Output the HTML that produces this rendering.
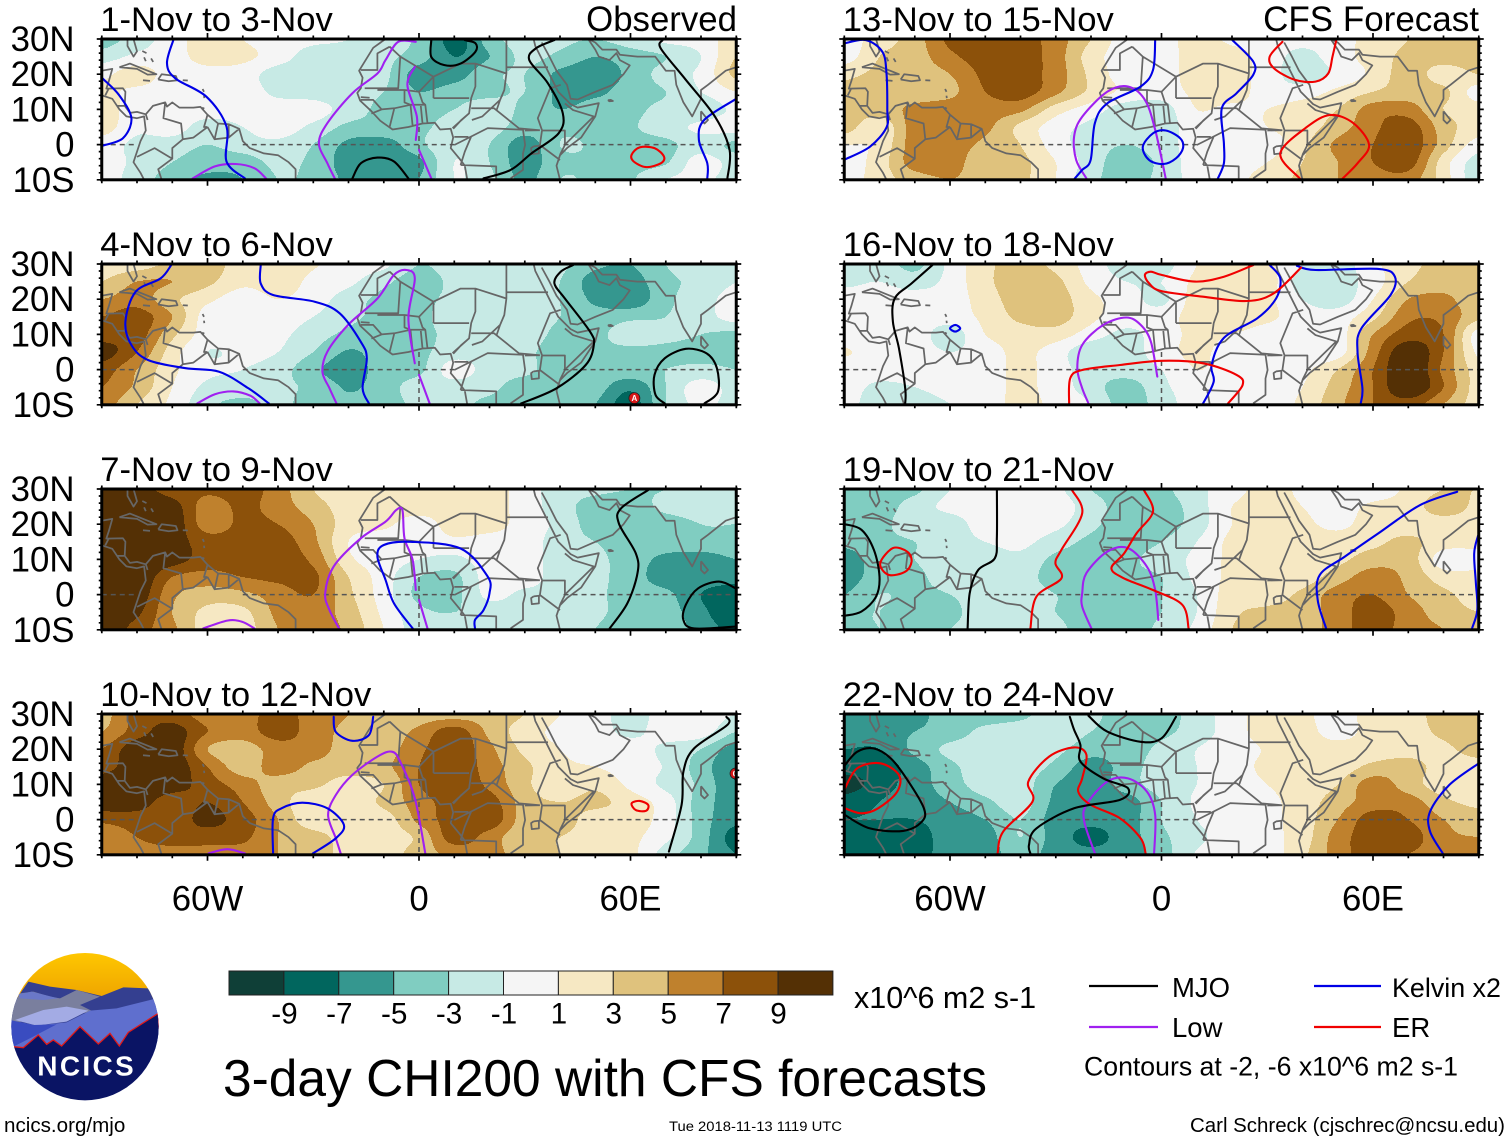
<!DOCTYPE html>
<html lang="en">
<head>
<meta charset="utf-8">
<title>3-day CHI200 with CFS forecasts</title>
<style>
html,body{margin:0;padding:0;background:#fff;}
svg{display:block;position:absolute;left:0;top:0;font-family:"Liberation Sans",sans-serif;}
text{fill:#000;}
</style>
</head>
<body>
<svg id="chart" xmlns="http://www.w3.org/2000/svg" width="1510" height="1142" viewBox="0 0 1510 1142">
  <g id="panels"></g>

  <g id="colorbar"></g>
  <text x="854" y="1008" font-size="30.5">x10^6 m2 s-1</text>
  <text x="223" y="1096" font-size="52" textLength="764" lengthAdjust="spacingAndGlyphs">3-day CHI200 with CFS forecasts</text>

  <g>
    <line x1="1089" y1="986" x2="1158" y2="986" stroke="#000" stroke-width="2.2"/>
    <text x="1172" y="997" font-size="27.5">MJO</text>
    <line x1="1314" y1="986" x2="1381" y2="986" stroke="#0000e6" stroke-width="2.2"/>
    <text x="1392" y="997" font-size="27" textLength="109" lengthAdjust="spacingAndGlyphs">Kelvin x2</text>
    <line x1="1089" y1="1027" x2="1158" y2="1027" stroke="#a020f0" stroke-width="2.2"/>
    <text x="1172" y="1037" font-size="27.5">Low</text>
    <line x1="1314" y1="1027" x2="1381" y2="1027" stroke="#f00000" stroke-width="2.2"/>
    <text x="1392" y="1037" font-size="27.5">ER</text>
    <text x="1084" y="1075.5" font-size="27" textLength="374" lengthAdjust="spacingAndGlyphs">Contours at -2, -6 x10^6 m2 s-1</text>
  </g>

  <text x="4" y="1132" font-size="20.6">ncics.org/mjo</text>
  <text x="669" y="1131" font-size="13.4" textLength="173" lengthAdjust="spacingAndGlyphs">Tue 2018-11-13 1119 UTC</text>
  <text x="1190" y="1132" font-size="20" textLength="315" lengthAdjust="spacingAndGlyphs">Carl Schreck (cjschrec@ncsu.edu)</text>

  <g transform="translate(0,945) scale(0.3333)">
    <defs><clipPath id="logoClip"><circle cx="255" cy="245" r="221"/></clipPath>
    <linearGradient id="sunSky" x1="0" y1="0" x2="0" y2="1"><stop offset="0" stop-color="#ffc800"/><stop offset="1" stop-color="#eea400"/></linearGradient></defs>
    <g clip-path="url(#logoClip)">
      <rect x="20" y="20" width="480" height="140" fill="url(#sunSky)"/>
      <path d="M30,190 L85,110 L150,125 L230,135 L305,153 L370,127 L445,130 L490,200 L490,320 L30,320Z" fill="#343f90"/>
      <path d="M30,200 L60,145 L100,140 L150,155 L180,160 L230,135 L300,155 L240,180 L280,200 L30,235Z" fill="#7a7f9e"/>
      <path d="M55,148 L95,140 L135,150 L175,160 L130,165 L60,160Z" fill="#6a78c8"/>
      <path d="M45,225 L130,195 L200,185 L265,197 L200,230 L110,242Z" fill="#a3abe4"/>
      <path d="M30,225 L110,242 L200,232 L270,197 L350,190 L470,160 L490,320 L40,320Z" fill="#5f6fce"/>
      <path d="M30,225 L100,240 L170,238 L80,285 L40,305 L25,300Z" fill="#3a4cc0"/>
      <path d="M40,305 L70,308 L115,270 L140,298 L160,285 L185,303 L240,245 L295,297 L330,265 L358,303 L385,262 L475,205 L490,480 L20,480Z" fill="#0a1464" stroke="#e01a1a" stroke-width="4"/>
    </g>
    <text x="260" y="391" font-size="84" font-weight="700" text-anchor="middle" letter-spacing="7" style="fill:#fff">NCICS</text>
  </g>
</svg>

<script>
/* ===== CHI200 anomaly fields: rows lat 30..-10 step 5, columns lon -90..90 step 10 ===== */
const chiNov01 = [
[-4,-2,0,2,1,0,-0.5,-1,-2,-3.5,-8,-4,-2,-2.5,-3,-2,-0.5,0,2],
[-2,-0.5,0,2,1.5,0,-2,-2,-2.5,-4,-7,-5,-2.5,-3.5,-5,-4,-3,-1,3],
[0.5,2,0,0,0,-2,-2,-2,-2.5,-6,-6,-3.5,-3,-5.5,-6,-4.5,-2,-0.5,3.5],
[1.5,0.5,0,-0.5,0,-1.5,-2,-2.5,-3,-5,-4,-3.5,-3,-5.5,-5.5,-4,-3,-1,1],
[2,0,0,0,0,0,0,-2,-3.5,-4,-3,-2,-3.5,-5,-4,-3.5,-2.5,-2.5,-0.5],
[2,-0.5,0,-2,-1,0,-1.5,-3.5,-3.5,-3.5,-2,-2,-4,-3.5,-3.5,-3.2,-2,-0.5,0],
[0,-1.5,-2,-3,-2,-1.5,-3,-5.5,-6,-3.5,-1.5,-3,-6,-3,-3.2,-3.5,-3.5,-2,-3.5],
[0,-1.5,-3,-4,-4,-2.5,-3.5,-6,-6.5,-5.5,-1,-3,-6,-3.5,-3.3,-3.5,-3.2,0,-2],
[0,-2,-4,-5.5,-5,-3,-3.5,-5.5,-6.5,-5,-1,-2.5,-5.5,-3,-3.3,-3.2,-1,-0.5,-2]];
const chiNov04 = [
[2,2,3.5,4,2,2,1.2,0,-0.5,-3,-2,-1.5,-2,-2.5,-4.5,-5,-3,-2,-1],
[3,5,5,3.5,1.5,2,0.5,-0.5,-2.5,-4,-2.5,-2,-2,-3,-6,-6,-3.5,-2.5,-1],
[5,6,3.5,1.5,0,1,0,-2,-3.5,-3.5,-2.5,-2,-2,-3,-5.5,-6.5,-3.5,-2,0],
[7,8,5,0,0,0,-1,-2.5,-3.5,-3.5,-2,-2,-2,-3,-4,-3.5,-3,-2,0],
[8,8,3.5,0,0,-0.5,-2,-3.5,-4,-3.5,-2.5,-2,-2,-3.5,-3.5,-2,-2.5,-3,-3.5],
[10,7,2,-1,-0.5,-1,-3,-5.2,-4,-3.5,-2,-2,-2.5,-4,-3.5,-3.5,-3.5,-3.5,-3.5],
[8,5,1.5,-0.5,-1,-2,-4.5,-6,-4,-3.5,0,-2,-2.5,-4,-3.5,-3.5,-3,-2.5,-3],
[7,4.5,1,-1.5,-2,-2.5,-3.5,-5.2,-4,-2,-2,-2.5,-4,-3.5,-4,-6.5,-3,0,-2],
[6,3,0.5,-2.5,-3.5,-2.5,-4,-4.6,-4,-2.5,-2.5,-3.5,-4,-3.5,-5,-8,-3,-0.5,-2]];
const chiNov07 = [
[11,10,8,7.5,8,6,3,1.5,2,2,2,2,0,-2,-2.5,-3,-3,-2,-2],
[11,11,10,6,7.5,6,4,2,2,2,2,2,0,-2,-4,-4,-2.5,-2,-2.5],
[11,11,10.5,6,7.5,7,5,2,1.5,0,2,2,0,-1.5,-4,-4,-4,-3,-3],
[11,11,10,8,8,8,5.5,1,-0.3,-0.3,0.5,0,0,-2,-3,-4,-4,-3.5,-3.5],
[11,11,10,8,8,8,6.5,1.5,0,-1,-1.5,0,0,-2,-2.5,-4,-5.5,-6,-5],
[11,11,7,6.2,7,7.5,7.5,3,0,-3,-3.5,0,0,-2,-2.5,-4,-6,-6,-6],
[11,10.5,5.5,4,4.5,6,7,3.5,0,-3.5,-3.5,-0.5,-1.5,-1.5,-2.5,-4,-4.5,-7,-8.5],
[11,9.5,5,2.5,2.5,5.5,6,4,0.5,-2.5,-3,-2,-2,-2,-2.5,-4,-4,-6.5,-8.5],
[11,8,5.5,2,2,5,6,4.5,1,-2,-2,-2,-2,-2,-3,-4.5,-3.5,-6,-7.5]];
const chiNov10 = [
[4,8,8,6,6,8,6,5,4,4,4,4,3,1,0,-2,0,0,-1],
[5,8,10,7,6,8,6,4.5,4,5.5,8,4.5,2,0.5,0,-1.5,0,0,-3],
[7,10.5,10.5,5,4,6,6,4,4,6.5,8.5,5.5,2.5,1,0,0,-1.5,-3,-6],
[8,10.5,10.5,7,4,6,4.5,4,4.5,7,8.5,6,3.5,1.5,1,0,-1.2,-4,-7],
[10.5,10.5,10,8,6,4,3.5,2,3,7,8.5,6.5,3.5,1.5,2.5,0.5,-1.5,-3.5,-7],
[10.5,10,8,9,7,4,1.5,1.5,3.5,6,8,8,4,3,3.5,2,0,-4,-6],
[7.5,8,8,9.5,8,5,1.5,2,2,5.5,8,8.5,4,4,2,2,0,-4,-6.5],
[5.5,7,8,8,7.5,5,4,2,2,3.5,8,6,3.5,3,2,1.5,-0.5,-4,-8],
[5,6,6,6,6,5,4.5,2,2,4,5.5,6,3.5,3,1.5,1.5,-2,-4.5,-7]];
const chiNov13 = [
[0,2,4,7.5,8,8,6,3,0,0,2,0.5,0,-0.5,0,2,3,4,3],
[0,3,4,6.5,8,8,6,2,0,0,2,2,0,-1.5,0,2,3.5,4,4],
[2.5,3.5,4,5,7.5,8,6,2.5,0,0,2,2,0,-2,-0.5,1.5,4,2,3],
[3.5,4,4,4.5,7,8,5.5,2.5,0.5,0,1.5,2,0,0,1.5,3,4,3.5,0],
[4,4,5.5,6,6,5.5,2,0,-2,-2,1,0.5,1,2,3,6,6,3,2],
[4,1.5,6,6,5.5,2.5,0,-1.5,-2,-2,0,0,1,2,4,6.5,8,4,2],
[1,1.5,6,6,4.5,3,0,-2,-3,-2,0,0,0,2.5,5.5,7,8.5,4,0],
[0,2,6,6,3.5,3.5,1,-2,-4,-2.5,0,0,1,3,5,7,8,2,-2],
[0,2,4,5,4,3.5,1,-2.5,-3.5,-2.5,0,0.3,2,3.5,5,6,6,2,-2.5]];
const chiNov16 = [
[-2,-2,-3.5,-0.5,2.5,3.5,2.5,0,-2,-2,1,2,1.5,-1,-2,0.5,2.5,3.5,4],
[-1.5,-1,-2,-0.3,2.5,4,3.5,0.5,-1,-1,1.5,2,2,-2,-2,0,3,4,4],
[0,0,0,0,2,4,4,1.5,0,-1.5,2,2,1.5,-1,-2,1,5,5.5,3.5],
[0,0,0,0,1.5,3.5,4,1.5,0,0,2,2.5,1.5,0,0,2.5,6.5,6.5,3.5],
[0,-1,0,-2,1,2,2,0,-1.5,0,1.5,1,0,0,0,5,8,7,0],
[1.2,0,0,-1,0,1.5,0,-2.5,-2,0,1.5,0,0,0,0,6,10.5,7,0.5],
[0,0,0,0,0,1.5,0,-2,-2,-1,1,0,0,0.5,3,7,11,6.5,2],
[0,-1.5,-1,0,0,1.5,0,-2,-4,-1.5,0,0,0,1,4,7,11,7,2],
[0,-2.5,-2.5,-1,0,1.5,0.5,-1,-4,-2,0,0,0,1.5,4.5,7,8,5,2]];
const chiNov19 = [
[-4,-4,-3.5,-1,0,0,-0.5,-3,-4,-3.5,-1.5,0,2,0.5,0,-0.5,1.5,3,3],
[-4,-4,-2,-0.5,0,0,0,-2,-4,-4,-2,1,2,1,0,1.5,2,4,2.5],
[-4,-3.5,-2,-2,0,0,-0.5,-2.5,-4,-4,-2,1,2,1.5,0.5,2,2,2,2],
[-4.5,-3.5,-3,-2,-1,-0.5,-2,-3.5,-4,-3,-1,1.5,2,2,2,2.5,3.5,2,1.5],
[-6,-4,-3,-2,-2,-1.5,-3.5,-4,-3.5,-2,-0.5,1.5,2,2,2.5,4,4,0,0.5],
[-6,-4,-3.5,-2,-2,-2,-4,-4,-3.5,-3,-0.5,1.5,2,2,4,6,4.5,2,1.5],
[-5,-3,-3.5,-3,-2,-2,-3,-4,-4,-3,-1,2,2,3.5,6,7,5,3.5,2],
[-3.5,-3,-4,-3.5,-2,-2,-3,-4,-4,-3,-1,2.5,3.5,4,6,8,6,4,3],
[-3.5,-3,-3.5,-3,-2,-2,-2.5,-4,-4,-2.5,-0.5,3,4,4,6,8,6,5,3.5]];
const chiNov22 = [
[-6,-6,-6,-3.5,-4,-3.5,-2,-2.5,-4,-4,-2,0,2,1.5,0,2,2,4,4],
[-6,-6,-5,-4,-2.5,-2,-2,-3,-4,-3.5,-2,0,2,2,0,2,2,3.5,4],
[-7,-7,-4.5,-2.5,-2,-2,-2.5,-4,-4,-2.5,-1,0,1.2,2,2,2,2,2.5,4],
[-8,-8,-6,-3.5,-2,-2,-3.5,-6,-4,-2,-1,0,1.5,2,2,3.5,4,2,2],
[-10,-8,-6,-4,-2,-2,-5,-6,-4,-2,-1,0,1,2,3,6,4,2,2],
[-8,-7,-6,-5,-3.5,-2,-5.5,-6,-6,-3,-0.7,0,0.5,2,4,6,6,3.5,2.5],
[-7,-7,-7,-6,-5,-3,-6,-6.5,-6,-3,-1,0,0.5,2,5,8,7,5,4],
[-8,-8,-8,-6,-6,-3,-6,-7.5,-6,-3.5,-1.5,0,0.5,2,6,8,8,5.5,5],
[-8,-8,-8,-6,-6,-4,-6,-6.5,-6,-4,-0.8,0,0,2.5,6,8,7,6,5.5]];

/* ===== Contours in [lon, lat] ===== */
const kelvinNov01 = [
[[-69.7,29.7],[-71.5,23.1],[-69.1,18.8],[-60.3,13.6],[-54.6,5.1],[-54.6,-4.8],[-49.4,-9.6]],
[[-89.8,18.8],[-85.1,14.1],[-81.6,7.5],[-84,1.8],[-89.8,-0.3]],
[[90,13],[80.9,7],[79.4,1.3],[81.8,-5.3],[81.8,-9.6]]];
const lowNov01 = [
[[-0.9,29.2],[-5.9,29.2],[-9.5,24],[-11.8,20.2],[-18.9,14.6],[-26,6.1],[-28.4,0.4],[-26,-5.3],[-23.9,-9.6]],
[[-1.2,22.1],[-3.3,16.9],[-0.6,7.9],[-0.9,1.3]],
[[0,-1.5],[3.5,-9.6]],
[[-64.2,-9.6],[-57.9,-6.2],[-52,-5.5],[-46.7,-6.7],[-43.4,-9.6]]];
const mjoNov01 = [
[[3.5,29.7],[3.5,24.9],[7.1,22.6],[11.8,23],[16,26.4],[16,28.8],[13,29.7]],
[[38.4,29.7],[33.1,27.3],[31.3,24],[36.6,17.4],[40.8,8.9],[39.6,3.2],[31.9,-2.5],[26,-7.2],[18.3,-9.6]],
[[-18.9,-9.6],[-16.5,-5.3],[-11.8,-3.7],[-7.1,-4.8],[-3,-9.6]],
[[69.1,29.7],[68.6,27.3],[75.7,18.4],[84,7.9],[88.1,-1.5],[87.5,-9.6]]];
const erNov01 = [
[[60.3,-2.9],[62.6,-0.8],[66.8,-1],[69.5,-3.4],[68.6,-5.3],[64.4,-6.4],[60.9,-4.8],[60.3,-2.9]]];

const kelvinNov04 = [
[[-70.3,29.7],[-73.3,25.9],[-80.4,22.1],[-83.3,13.6],[-81.6,7],[-76.8,2.7],[-66.2,0.4],[-56.7,-0.6],[-48.4,-5.3],[-42.6,-9.6]],
[[-44.9,29.7],[-44.9,24.5],[-41.4,21.2],[-29.6,19.3],[-22.5,16],[-16.5,7.9],[-14.8,3.2],[-16,-5.3],[-14.2,-9.6]]];
const lowNov04 = [
[[-1.2,1.8],[-3,14.6],[-1.2,25.9],[-3.5,28.3],[-7.1,26.9],[-11.8,20.2],[-20.1,12.7],[-26,5.1],[-27.4,-0.6],[-25.4,-5.3],[-23.4,-9.6]],
[[0,-1.5],[3,-9.6]],
[[-62.9,-9.6],[-57.9,-7],[-52.6,-6.2],[-47.9,-7.4],[-45.2,-9.6]]];
const mjoNov04 = [
[[43.7,29.7],[40.2,27.8],[38.4,24.5],[41.4,20.2],[48.5,10.8],[49.6,7],[47.3,1.3],[39,-5.3],[29,-9.6]],
[[69.7,-9.6],[67.1,-7.2],[66.8,-1.5],[69.7,3.2],[75.7,5.9],[81.6,4.6],[84.5,0.4],[84.8,-6.3],[81,-9.6]]];
const erNov04 = [];

const kelvinNov07 = [
[[-1.8,-9.6],[-7.1,-2.5],[-9.5,4.2],[-11.8,10.8],[-10,14.1],[-2.4,15],[11.8,13.1],[19.5,5.1],[20,0.4],[18.3,-4.4],[15.9,-7.2],[15.9,-9.6]]];
const lowNov07 = [
[[-0.9,1.3],[-1.8,9.8],[-4.1,16],[-4.7,24],[-6.5,24],[-9.5,20.7],[-16.5,16],[-24.2,8],[-26.6,0.4],[-25.4,-4.4],[-22.7,-9.6]],
[[0,-1.5],[2.4,-9.6]],
[[-61.2,-9.6],[-54.4,-7.4],[-50.2,-7.7],[-46.7,-9.6]]];
const mjoNov07 = [
[[65,29.7],[57.3,24.5],[56.7,20.2],[61.5,11.7],[62,6.1],[59.1,-2.5],[54.1,-9.6]],
[[89.8,1.8],[85.1,3.7],[79.2,1.8],[75.7,-2.9],[75,-7.2],[78,-9.6],[89.8,-9.1]]];
const erNov07 = [];

const kelvinNov10 = [
[[-24.2,29.2],[-23.6,24.9],[-18.9,22.4],[-14.2,24],[-13,29.2]],
[[-41.4,-9.6],[-41.4,0.4],[-39,3.2],[-33.1,4.8],[-26,3.2],[-21.3,-1.5],[-23.6,-5.3],[-30.1,-9.6]]];
const lowNov10 = [
[[1.8,-9.6],[-1.2,6.1],[-5.3,16.4],[-7.7,19.3],[-11.8,17.9],[-18.9,12.7],[-23.6,7],[-25.8,1.3],[-23.6,-5.3],[-22.2,-9.6]],
[[-59.7,-9.6],[-54.4,-8.4],[-49.4,-9.6]]];
const mjoNov10 = [
[[87.2,29.2],[87.5,26.9],[78,20.2],[75,13.6],[74.5,4.2],[70.9,-9.1]]];
const erNov10 = [
[[60.3,4.6],[62.6,5.3],[65,4.2],[64.4,2.5],[61.5,2.7],[60.3,4.6]]];

const kelvinNov13 = [
[[-89.8,28.8],[-83.9,29.7],[-79.2,26.4],[-78,20.2],[-77.8,9.8],[-78,4.9],[-82.7,-0.6],[-89.8,-4.2]],
[[-1.8,29.7],[-2.4,21.2],[-5.9,16.5],[-15.4,11.7],[-18.9,6.1],[-20.1,-4.4],[-22.5,-7.2],[-24.6,-9.6]],
[[-5.3,-0.6],[-2.4,3.2],[1.2,4],[5.3,1.8],[6.1,-1],[4.1,-3.9],[0.6,-5.5],[-3.5,-4.4],[-5.3,-0.6]],
[[20.1,29.7],[26,23.6],[26,19.8],[21.3,14.6],[17.1,10.3],[17.7,0.4],[17.7,-5.3],[16,-9.6]]];
const lowNov13 = [
[[1.2,-9.6],[-1.8,4.2],[-4.7,12.7],[-9.5,16.5],[-15.4,15],[-22.5,7.9],[-24.8,2.3],[-24.2,-4.4],[-21.3,-9.6]]];
const mjoNov13 = [];
const erNov13 = [
[[34.3,29.2],[30.7,25],[31.9,21.7],[37.8,18.4],[43.7,17.9],[47.3,20.2],[48.5,25],[49.6,29.7]],
[[39.2,-9.6],[33.7,-2.5],[41.4,5.1],[47.9,8.4],[54.4,6.1],[58.9,-0.1],[55.6,-5.3],[51.4,-9.6]]];

const kelvinNov16 = [
[[-60,11.7],[-58.5,12.7],[-57.1,11.7],[-58.5,10.8],[-60,11.7]],
[[30.7,29.7],[33.7,25.9],[32.5,20.2],[27.2,14.6],[17.7,9],[14.2,1.3],[14.8,-3.4],[11.8,-9.6]],
[[38.4,29.5],[43.7,28.3],[61.5,28.6],[66.2,26.4],[65,21.2],[56.7,11.7],[55.6,5.1],[57,-5.3],[56.5,-9.6]]];
const lowNov16 = [
[[-1.2,-2],[-3,7.9],[-5.9,12.7],[-10,14.8],[-16.5,12.7],[-22.5,7],[-23.9,0.4],[-22.5,-5.3],[-20.7,-9.6]]];
const mjoNov16 = [
[[-65,29.7],[-70.9,24.5],[-75.7,20.2],[-76.2,13.6],[-74.5,6.1],[-72.7,-5.3],[-72.7,-9.6]]];
const erNov16 = [
[[26,29.7],[17.7,26.4],[9.5,25],[0,26.9],[-3,27.8],[-4.7,26.9],[-3.5,24.5],[0,22.3],[11.8,20.7],[24.2,19.5],[31.9,21.7],[39.6,29]],
[[-26.2,-9.6],[-25.9,-2.5],[-22.5,-0.1],[-11.8,1.3],[0,2.5],[11.8,1.8],[21.3,-1.5],[23,-4.4],[18.9,-9.6]]];

const kelvinNov19 = [
[[83.9,29.2],[73.3,25.4],[61.5,17.4],[52,10.8],[44.9,5.6],[44.3,-1.5],[46.7,-9.6]],
[[89.8,16.7],[88.7,11.7],[89.2,3.2],[89.6,-4.4],[88.1,-9.6]]];
const lowNov19 = [
[[-0.9,-7.2],[-1.8,1.3],[-4.1,7.9],[-9.5,13.2],[-15.4,12.2],[-21.3,6.1],[-22.5,0.4],[-22.5,-3.4],[-19.9,-9.6]]];
const mjoNov19 = [
[[-46.7,29.7],[-46.7,16.5],[-47.3,10.3],[-52,7],[-54.4,0.4],[-55,-9.6]],
[[-89.8,20],[-85.1,18.4],[-81.6,12.7],[-80,5.1],[-81,-0.6],[-85.1,-4.8],[-89.8,-6]]];
const erNov19 = [
[[-79.8,8.9],[-76.2,13.2],[-72.1,12.2],[-70.9,9.4],[-72.7,6.5],[-77.4,5.6],[-79.8,8.9]],
[[-25.4,29.7],[-22.5,23.1],[-28.4,12.7],[-30.1,8.9],[-28.4,4.6],[-35.5,-0.6],[-37.2,-9.6]],
[[-5,29.7],[-2.4,23.6],[-7.1,17.4],[-10.6,11.7],[-14.2,7.5],[-10.6,4.6],[-2.4,1.3],[5.9,-2.9],[7.7,-9.6]]];

const kelvinNov22 = [
[[90,16],[81.6,9.8],[76.2,2.3],[76.2,-3.4],[79.8,-9.6]]];
const lowNov22 = [
[[-2.1,-9.6],[-1.8,1.3],[-4.1,7.9],[-9.5,11.7],[-15.4,10.8],[-21.3,4.2],[-21.9,-0.6],[-18.9,-9.6]]];
const mjoNov22 = [
[[-26,29.2],[-24.8,25.5],[-23,21.2],[-23,16.5],[-16.5,11.7],[-9.5,8.9],[-11.8,5.6],[-24.8,3.2],[-35.5,-2.5],[-37.6,-7.2],[-37.2,-9.6]],
[[-20.7,29.5],[-15.4,25],[-5.9,22.1],[0,23.1],[4.1,29.2]],
[[-89.8,15.5],[-86.3,19.3],[-81.6,20.2],[-76.8,17.4],[-72.1,11.3],[-67.4,3.2],[-68,-0.6],[-73.3,-3.2],[-82.7,-2.5],[-89.8,1.3]]];
const erNov22 = [
[[-89.8,8.9],[-86.3,14.6],[-79.8,16],[-74.5,12.7],[-75,7.9],[-80.4,3.2],[-85.1,1.8],[-89.8,3.2]],
[[-46.5,-9.6],[-44.9,-3.4],[-36.6,5.1],[-37.8,10.8],[-31.9,17.9],[-24.8,20.5],[-21.3,18.4],[-22.5,11.7],[-23.6,7.9],[-20.1,4.2],[-11.8,0.4],[-5.9,-5.3],[-4.5,-9.6]]];

/* ===== Tropical cyclone markers [lon, lat, letter] ===== */
const stormsNov04 = [[61.1,-8.1,'A']];
const stormsNov10 = [[89.8,13.1,'C']];

/* ===== Map outlines [lon, lat] ===== */
const coastLines = [
[[-82.7,30],[-82.7,28],[-81,25],[-80,26.5],[-81,30]],
[[-90,21],[-87,21.5],[-88,18],[-88.7,15.9],[-84,16],[-83.3,15],[-83.5,11],[-82,9],[-80,9.3],[-77.5,8.6],[-75.5,11],[-72,12],[-71.5,10.8],[-70,12],[-68,10.5],[-64,10.5],[-62,10.7],[-60,8.5],[-57,6],[-54,5.8],[-51,4.5],[-50,1],[-48,-1],[-44,-2.5],[-40,-3],[-37,-5],[-35,-7],[-35,-10]],
[[-90,14],[-87,13],[-85,10],[-83,8],[-80,7.5],[-78,8],[-77.5,4],[-79,1],[-80,-2],[-81,-5],[-79,-8],[-78,-10]],
[[-85,22],[-82,23],[-77,21],[-74.5,20],[-77,19.9],[-80,21.5],[-85,22]],
[[-74,18.5],[-73,20],[-69,19.5],[-68.5,18.3],[-71,18],[-74,18.5]],
[[-78.3,18.3],[-76.3,18.1]],[[-67,18.3],[-65.6,18.2]],[[-61.4,15.8],[-61,15]],[[-61,13.9],[-60.9,13.2]],
[[-78.5,26.6],[-77.3,26]],[[-78,24.8],[-77.5,23.7]],[[-76,24.5],[-75.4,23.5]],[[-61.5,10.5],[-60.9,10.2]],
[[-72,12],[-72.5,7.5],[-67.5,6],[-67,1.5],[-70,-1],[-70,-4],[-74,-7],[-73,-10]],
[[-80,-3.5],[-75,-1],[-70,-4]],[[-60,8.5],[-61,5],[-60,5]],[[-57,6],[-58,1.5]],[[-54,5.8],[-54,2]],
[[-60,5],[-64,2],[-67,1.5]],[[-60,5],[-58,1.5],[-54,2],[-51,4.5]],[[-77.5,8.6],[-77,7]],[[-85.5,11],[-83.7,11]],[[-89,14],[-88,16]],
[[-9.5,30],[-13,27.5],[-17,21],[-16,19],[-16.5,16],[-17.5,14.7],[-16.7,12.5],[-13.5,9.5],[-11,6.8],[-7.5,4.3],[-3,5],[1,6],[4.5,6.2],[6,4.3],[9,4.5],[9.7,2],[9,-1],[11.5,-4],[13,-6],[13.7,-10]],
[[40,-10],[39,-6],[40,-3],[42,-1],[46,2],[50,8],[51,11.8],[45,10.5],[43,11.5],[39.5,15],[37,20],[35,24],[33,28],[32.5,30]],
[[34.8,29],[37,25],[39,21],[42,17],[43,13],[45,12.8],[50,15],[55,17],[58,20],[59.8,22.5],[57,24],[56,26],[54,24],[51,25],[50,27],[48,30]],
[[48,30],[50,29],[52,27],[56,27],[57,25.5],[62,25],[67,25],[70,21],[72.5,21],[73,17],[75,12],[77.5,8],[80,13],[80,15.5],[82,17],[87,21],[90,22]],
[[80,9.5],[82,7],[81,6],[80,7],[80,9.5]],
[[53.6,12.6],[54.4,12.7],[55,12.4],[54,12.3],[53.6,12.6]],
[[-8.3,27.8],[-5.3,25],[4.1,19.3],[11.8,23],[16,23],[24.8,20.2],[24.8,29.7]],
[[24.8,22],[36.6,22]],[[-8.3,27.8],[-11.8,25.9],[-11.8,21.2],[-16.5,21.2]],[[-5.3,25],[-5.9,16],[-15.4,16]],
[[-11.8,15.5],[-4.1,15.5],[0,15],[4.1,19.3]],[[4.1,13.2],[14.2,13.2]],[[4.1,19.3],[4.1,13.2]],[[16,23],[16,16.5],[14.8,13.2],[14.2,8.9],[9.5,4.7]],
[[24.8,20.2],[24.2,15.5],[23,12.7],[22,9.8]],[[14.8,10.3],[21.3,10.3],[28.4,4.6],[34.3,4.1]],
[[40.2,17],[37.2,16],[33.7,7.5],[34.9,4.1]],[[41.4,11.7],[43.7,9.8],[49.6,8],[41.4,0]],
[[34.9,4],[41.4,4],[41.4,-0.1],[40,-2.9]],[[34.9,4],[34.3,-0.1],[40,-4.4]],
[[32.5,-0.5],[34,-0.3],[34,-2.5],[32,-2.7],[31.8,-1],[32.5,-0.5]],
[[10,-0.1],[14.8,2.3],[19.5,4.7],[29.5,4.2],[30.1,-0.1],[29.5,-2.5],[29.5,-7.2],[26,-9.6]],
[[11.8,-5.8],[21.9,-6.2],[21.9,-9.6]],[[14.8,2.3],[13,-2],[11.8,-5.8]],[[10,2.2],[14,2.2]],
[[-10.6,10],[-7,10.3],[-2.4,11.3],[1.8,11.3],[2.4,6]],[[-2.4,11.3],[-1.8,5.1]],[[-7,10.3],[-8.3,5.1]],
[[-16.5,12.7],[-13,12.7],[-10.6,10],[-13.5,8.8]],[[-4.1,15.5],[-4.1,12],[-2.4,11.3]],[[0,15],[1,12],[1.8,11.3]],[[-16.5,13.5],[-14,13.3]],[[0.5,11],[1,6]],
[[34.3,4.1],[30,4]],[[14.2,8.9],[12,7],[9.7,4.5]],[[23,12.7],[18,8],[15,7]]
];

/* ===== Axes labels, legend ===== */
const latTickLabels = ['30N','20N','10N','0','10S'];
const latTickValues = [30,20,10,0,-10];
const lonTickLabels = ['60W','0','60E'];
const lonTickValues = [-60,0,60];
const bandColors = ['#0f3f37','#01665e','#35978f','#80cdc1','#c7eae5','#f5f5f5','#f6e8c3','#dfc27d','#bf812d','#8c510a','#543005'];
const bandLevels = [-9,-7,-5,-3,-1,1,3,5,7,9];
const colorbarLabels = ['-9','-7','-5','-3','-1','1','3','5','7','9'];

const panelTitles = ['1-Nov to 3-Nov','4-Nov to 6-Nov','7-Nov to 9-Nov','10-Nov to 12-Nov','13-Nov to 15-Nov','16-Nov to 18-Nov','19-Nov to 21-Nov','22-Nov to 24-Nov'];
const panelFields = [chiNov01,chiNov04,chiNov07,chiNov10,chiNov13,chiNov16,chiNov19,chiNov22];
const panelKelvin = [kelvinNov01,kelvinNov04,kelvinNov07,kelvinNov10,kelvinNov13,kelvinNov16,kelvinNov19,kelvinNov22];
const panelLow = [lowNov01,lowNov04,lowNov07,lowNov10,lowNov13,lowNov16,lowNov19,lowNov22];
const panelMjo = [mjoNov01,mjoNov04,mjoNov07,mjoNov10,mjoNov13,mjoNov16,mjoNov19,mjoNov22];
const panelEr = [erNov01,erNov04,erNov07,erNov10,erNov13,erNov16,erNov19,erNov22];
const panelStorms = [[],stormsNov04,[],stormsNov10,[],[],[],[]];

const NS = 'http://www.w3.org/2000/svg';
const PX_PER_LON = 3.525, PX_PER_LAT = 3.52;
const COL_ZERO = [419, 1161.5];
const ROW_EQUATOR = [144.6, 369.6, 594.6, 819.6];

function xScale(lon, col){ return COL_ZERO[col] + lon * PX_PER_LON; }
function yScale(lat, row){ return ROW_EQUATOR[row] - lat * PX_PER_LAT; }

function mk(parent, tag, attrs, txt){
  const e = document.createElementNS(NS, tag);
  for (const k in attrs) e.setAttribute(k, attrs[k]);
  if (txt !== undefined) e.textContent = txt;
  parent.appendChild(e);
  return e;
}

function cubic(p0,p1,p2,p3,t){
  return p1 + 0.5*t*(p2-p0 + t*(2*p0-5*p1+4*p2-p3 + t*(3*(p1-p2)+p3-p0)));
}
function sampleField(f, lon, lat){
  const gx = (lon+90)/10, gy = (30-lat)/5;
  const nx = f[0].length, ny = f.length;
  const ix = Math.max(0, Math.min(nx-2, Math.floor(gx)));
  const iy = Math.max(0, Math.min(ny-2, Math.floor(gy)));
  const tx = gx-ix, ty = gy-iy;
  const col = [];
  for (let j=-1;j<=2;j++){
    const r = f[Math.max(0,Math.min(ny-1,iy+j))];
    col.push(cubic(r[Math.max(0,ix-1)],r[ix],r[ix+1],r[Math.min(nx-1,ix+2)],tx));
  }
  return cubic(col[0],col[1],col[2],col[3],ty);
}
function bandOf(v){
  let b = 0;
  while (b < bandLevels.length && v >= bandLevels[b]) b++;
  return b;
}
function smoothPath(pts, row, col){
  const P = pts.map(p => [xScale(p[0],col), yScale(p[1],row)]);
  let d = 'M' + P[0][0].toFixed(1) + ' ' + P[0][1].toFixed(1);
  const closed = pts.length>2 && pts[0][0]===pts[pts.length-1][0] && pts[0][1]===pts[pts.length-1][1];
  const n = P.length;
  for (let i=0;i<n-1;i++){
    const p0 = i>0 ? P[i-1] : (closed ? P[n-2] : P[i]);
    const p1 = P[i], p2 = P[i+1];
    const p3 = i<n-2 ? P[i+2] : (closed ? P[1] : P[i+1]);
    d += 'C'+(p1[0]+(p2[0]-p0[0])/6).toFixed(1)+' '+(p1[1]+(p2[1]-p0[1])/6).toFixed(1)+' '
            +(p2[0]-(p3[0]-p1[0])/6).toFixed(1)+' '+(p2[1]-(p3[1]-p1[1])/6).toFixed(1)+' '
            +p2[0].toFixed(1)+' '+p2[1].toFixed(1);
  }
  return d;
}

const root = document.getElementById('panels');
const defs = mk(root,'defs',{});

panelTitles.forEach(function(title, idx){
  const col = idx < 4 ? 0 : 1;
  const row = idx % 4;
  const x0 = xScale(-90,col), x1 = xScale(90,col), y0 = yScale(30,row), y1 = yScale(-10,row);

  const g = mk(root,'g',{});
  
  

  const clip = mk(defs,'clipPath',{id:'clip'+idx});
  mk(clip,'rect',{x:x0,y:y0,width:x1-x0,height:y1-y0});

  /* filled bands */
  const field = panelFields[idx];
  const dBands = bandColors.map(function(){ return []; });
  const pxL = Math.round(x0), pxR = Math.round(x1), pyT = Math.round(y0), pyB = Math.round(y1);
  for (let py=pyT; py<pyB; py++){
    const lat = (ROW_EQUATOR[row]-(py+0.5))/PX_PER_LAT;
    let start = pxL, cur = -1;
    for (let px=pxL; px<=pxR; px++){
      const b = px<pxR ? bandOf(sampleField(field,(px+0.5-COL_ZERO[col])/PX_PER_LON,lat)) : -2;
      if (b!==cur){
        if (cur>=0) dBands[cur].push('M'+start+' '+py+'h'+(px-start)+'v1h-'+(px-start)+'z');
        start = px; cur = b;
      }
    }
  }
  const fill = mk(g,'g',{'shape-rendering':'crispEdges'});
  
  
  dBands.forEach(function(parts,b){
    if (!parts.length) return;
    const band = mk(fill,'path',{d:parts.join(''),fill:bandColors[b]});
    
    
  });

  const inner = mk(g,'g',{'clip-path':'url(#clip'+idx+')'});
  
  

  /* map outlines */
  const mapG = mk(inner,'g',{fill:'none',stroke:'#666',"stroke-width":1.75,"stroke-linejoin":'round'});
  
  
  const dMap = coastLines.map(function(line){
    return 'M'+line.map(function(p){ return xScale(p[0],col).toFixed(1)+' '+yScale(p[1],row).toFixed(1); }).join('L');
  }).join('');
  mk(mapG,'path',{d:dMap});

  /* equator + meridian dashes over ocean */
  const dash = mk(inner,'path',{
    d:'M'+xScale(-90,col)+' '+yScale(0,row)+'H'+xScale(-80,col)+
      'M'+xScale(-50,col)+' '+yScale(0,row)+'H'+xScale(10,col)+
      'M'+xScale(41,col)+' '+yScale(0,row)+'H'+xScale(90,col)+
      'M'+xScale(0,col)+' '+yScale(5,row)+'V'+yScale(-10,row),
    fill:'none',stroke:'#555',"stroke-width":1.5,"stroke-dasharray":'5 4'});
  
  

  /* contour series */
  function drawSeries(list, color, name){
    list.forEach(function(pts){
      const c = mk(inner,'path',{d:smoothPath(pts,row,col),fill:'none',stroke:color,"stroke-width":2.1,"stroke-linecap":'round'});
      
      
    });
  }
  drawSeries(panelLow[idx],'#a020f0','low-contour');
  drawSeries(panelKelvin[idx],'#0000e6','kelvin-contour');
  drawSeries(panelEr[idx],'#f00000','er-contour');
  drawSeries(panelMjo[idx],'#000','mjo-contour');

  /* storms */
  panelStorms[idx].forEach(function(s){
    const sg = mk(inner,'g',{});
    
    
    const cx = xScale(s[0],col), cy = yScale(s[1],row);
    mk(sg,'circle',{cx:cx,cy:cy,r:5.5,fill:'#d81818',stroke:'#222',"stroke-width":0.8});
    const lab = mk(sg,'text',{x:cx,y:cy+3,'text-anchor':'middle','font-size':8,'font-weight':700,style:'fill:#fff'},s[2]);
    
    
  });

  /* frame and ticks */
  const frame = mk(g,'rect',{x:x0,y:y0,width:x1-x0,height:y1-y0,fill:'none',stroke:'#000',"stroke-width":3});
  
  

  let dT = '';
  for (let lon=-90; lon<=90; lon+=10){
    const major = lonTickValues.indexOf(lon)>=0;
    const len = major ? 6 : 3.5;
    const x = xScale(lon,col).toFixed(1);
    dT += 'M'+x+' '+(y0-len)+'V'+y0+'M'+x+' '+y1+'V'+(y1+len);
  }
  for (let lat=-10; lat<=30; lat+=2){
    const major = lat%10===0;
    const len = major ? 5 : 3;
    const y = yScale(lat,row).toFixed(1);
    dT += 'M'+(x0-len)+' '+y+'H'+x0+'M'+x1+' '+y+'H'+(x1+len);
  }
  const ticks = mk(g,'path',{d:dT,stroke:'#000',"stroke-width":1.7,fill:'none'});
  
  

  /* labels */
  const t = mk(g,'text',{x:x0-1.5,y:y0-8,'font-size':34.6},title);
  
  

  if (col===0){
    latTickLabels.forEach(function(lbl,i){
      const yl = mk(g,'text',{x:74.5,y:yScale(latTickValues[i],row)+12,'text-anchor':'end','font-size':34.8},lbl);
      
      
    });
  }
  if (row===3){
    lonTickLabels.forEach(function(lbl,i){
      const xl = mk(g,'text',{x:xScale(lonTickValues[i],col),y:910.5,'text-anchor':'middle','font-size':34.8},lbl);
      
      
    });
  }
});

/* column headers */
const obs = mk(root,'text',{x:737,y:31,'text-anchor':'end','font-size':34.8},'Observed');


const fct = mk(root,'text',{x:1479,y:31,'text-anchor':'end','font-size':35},'CFS Forecast');



/* colour bar */
const cbar = document.getElementById('colorbar');
const CB_X = 229, CB_W = 54.9, CB_Y = 971, CB_H = 24;
function cbX(i){ return CB_X + i*CB_W; }
bandColors.forEach(function(c,i){
  const cell = mk(cbar,'rect',{x:cbX(i),y:CB_Y,width:CB_W,height:CB_H,fill:c,stroke:'#222',"stroke-width":1});
  
  
});
colorbarLabels.forEach(function(l,i){
  const lab = mk(cbar,'text',{x:cbX(i+1)+0.5,y:1023.5,'text-anchor':'middle','font-size':29.7},l);
  
  
});
</script>
</body>
</html>
